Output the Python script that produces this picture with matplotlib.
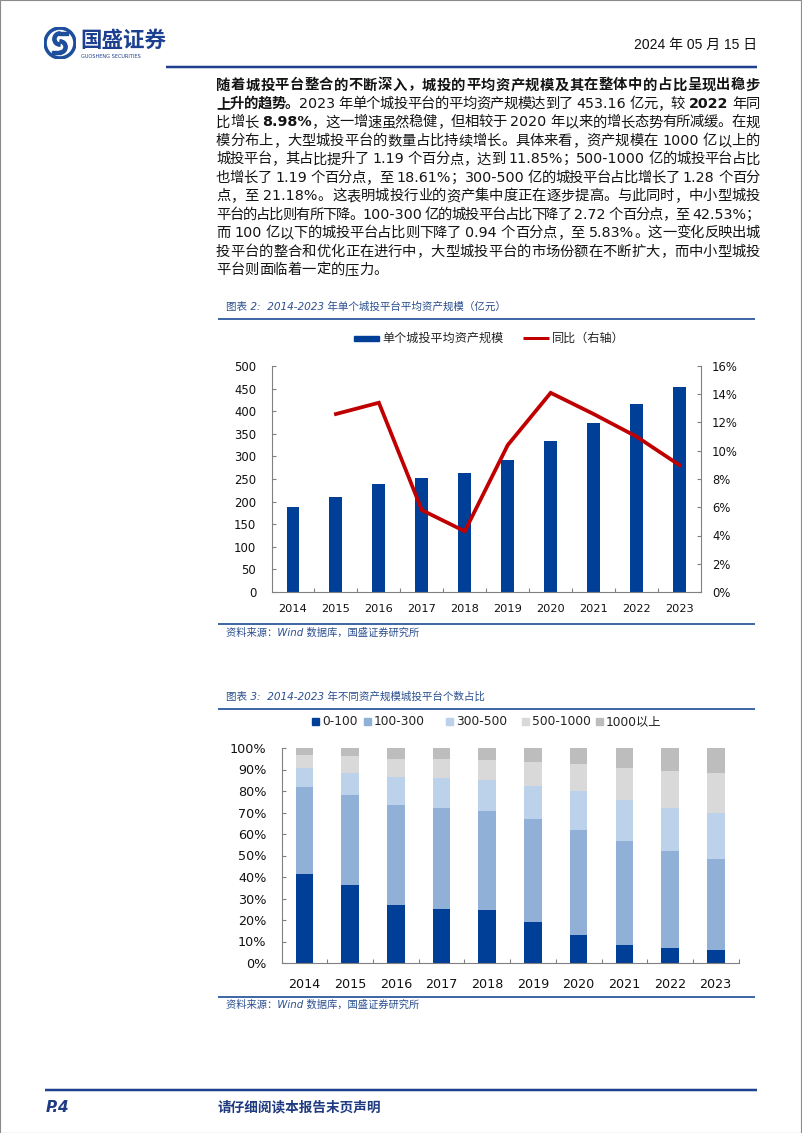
import re
import numpy as np
import matplotlib
matplotlib.use("Agg")
import matplotlib.pyplot as plt
from matplotlib.lines import Line2D
from matplotlib.patches import Rectangle, Circle, Wedge

# ---------------- data ----------------
years = ['2014', '2015', '2016', '2017', '2018', '2019', '2020', '2021', '2022', '2023']
avg_assets = [187, 211, 239, 253, 264, 292, 333, 374, 416, 453.16]          # 亿元
yoy_pct = [np.nan, 12.6, 13.4, 5.8, 4.3, 10.4, 14.1, 12.6, 11.0, 8.98]     # %
left_ticks = list(range(0, 501, 50))
right_ticks = list(range(0, 17, 2))

size_labels = ['0-100', '100-300', '300-500', '500-1000', '1000以上']
share_0_100 = [41.4, 36.2, 27.1, 25.2, 24.7, 19.0, 12.8, 8.4, 6.77, 5.83]
share_100_300 = [40.6, 42.0, 46.6, 47.0, 46.2, 48.2, 48.9, 48.4, 45.25, 42.53]
share_300_500 = [8.5, 10.4, 12.9, 13.8, 14.2, 15.2, 18.1, 18.8, 19.90, 21.18]
share_500_1000 = [6.2, 7.5, 8.1, 8.7, 9.1, 11.1, 12.7, 15.2, 17.42, 18.61]
share_1000_plus = [3.3, 3.9, 5.3, 5.3, 5.8, 6.5, 7.5, 9.2, 10.66, 11.85]
pct_ticks = list(range(0, 101, 10))

para_lines = [
    [("随着城投平台整合的不断深入，城投的平均资产规模及其在整体中的占比呈现出稳步", True)],
    [("上升的趋势。", True), ("2023 年单个城投平台的平均资产规模达到了 453.16 亿元，较 ", False),
     ("2022", True), (" 年同", False)],
    [("比增长 ", False), ("8.98%", True), ("，这一增速虽然稳健，但相较于 2020 年以来的增长态势有所减缓。在规", False)],
    [("模分布上，大型城投平台的数量占比持续增长。具体来看，资产规模在 1000 亿以上的", False)],
    [("城投平台，其占比提升了 1.19 个百分点，达到 11.85%；500-1000 亿的城投平台占比", False)],
    [("也增长了 1.19 个百分点，至 18.61%；300-500 亿的城投平台占比增长了 1.28 个百分", False)],
    [("点，至 21.18%。这表明城投行业的资产集中度正在逐步提高。与此同时，中小型城投", False)],
    [("平台的占比则有所下降。100-300 亿的城投平台占比下降了 2.72 个百分点，至 42.53%；", False)],
    [("而 100 亿以下的城投平台占比则下降了 0.94 个百分点，至 5.83%。这一变化反映出城", False)],
    [("投平台的整合和优化正在进行中，大型城投平台的市场份额在不断扩大，而中小型城投", False)],
    [("平台则面临着一定的压力。", False)],
]

# ---------------- figure ----------------
W, H = 802, 1133
fig = plt.figure(figsize=(W / 100, H / 100), dpi=100)
FAM = ['DejaVu Sans', 'Noto Sans CJK SC']
CJKF = ['Noto Sans CJK SC', 'DejaVu Sans']
BLUE_T = '#2b4f8f'


def fx(x):
    return x / W


def fy(y):
    return 1 - y / H


def hline(x0, x1, y, color, lw_px):
    fig.add_artist(Line2D([fx(x0), fx(x1)], [fy(y), fy(y)], color=color,
                          lw=lw_px * 0.72, transform=fig.transFigure, solid_capstyle='butt'))


# page border
fig.add_artist(Rectangle((0.0006, 0.0), 0.9985, 0.9999, fill=False, ec='#8a8a8a', lw=0.8,
                         transform=fig.transFigure))

# ---------------- header ----------------
lax = fig.add_axes([fx(44), fy(59), 32 / W, 32 / H])
lax.set_xlim(-1, 1); lax.set_ylim(-1, 1); lax.set_aspect('equal'); lax.axis('off')
lax.add_patch(Circle((0, 0), 1.0, color='#1d4f9c'))
lax.add_patch(Circle((0, 0), 0.78, color='white'))
lax.add_patch(Wedge((0.0, 0.25), 0.45, 90, 270, width=0.2, color='#1d4f9c'))
lax.add_patch(Wedge((0.0, -0.25), 0.45, -90, 90, width=0.2, color='#1d4f9c'))
lax.add_patch(Rectangle((-0.05, 0.5), 0.55, 0.2, color='#1d4f9c'))
lax.add_patch(Rectangle((-0.5, -0.7), 0.55, 0.2, color='#1d4f9c'))
fig.text(fx(80), fy(40), "国盛证券", fontsize=15.5, weight='bold', color='#1d3f8f',
         family=CJKF, ha='left', va='center')
fig.text(fx(81), fy(56), "GUOSHENG SECURITIES", fontsize=3.6, color='#1d3f8f',
         family=FAM, ha='left', va='center')
fig.text(fx(757), fy(45), "2024 年 05 月 15 日", fontsize=10, color='#111111',
         family=['Liberation Sans', 'Noto Sans CJK SC'], ha='right', va='center')
hline(166, 757, 67, '#1f3f8f', 2.5)

# ---------------- paragraph (justified) ----------------
PSIZE = 10.3  # pt
EM = PSIZE * 100 / 72.0  # px
ADV_REG = {'.': 0.318, '%': 0.950, '-': 0.361, ' ': 0.318}
ADV_BOLD = {'.': 0.380, '%': 1.002, '-': 0.415, ' ': 0.348}


def advance(ch, bold):
    if ch.isdigit() and ord(ch) < 128:
        return (0.696 if bold else 0.636) * EM
    tab = ADV_BOLD if bold else ADV_REG
    if ch in tab:
        return tab[ch] * EM
    return EM


X0, X1 = 216, 760
for i, segs in enumerate(para_lines):
    y = 84 + 18.45 * i
    toks = []
    for text, bold in segs:
        for t in re.findall(r'[0-9A-Za-z.%\-]+| |.', text):
            toks.append((t, bold, sum(advance(c, bold) for c in t)))
    total = sum(t[2] for t in toks)
    last = (i == len(para_lines) - 1)
    gap = 0 if last else (X1 - X0 - total) / (len(toks) - 1)
    x = X0
    for t, bold, w in toks:
        if t != ' ':
            fig.text(fx(x), fy(y), t, fontsize=PSIZE, family=FAM if ord(t[0]) < 128 else CJKF,
                     weight='bold' if bold else 'normal', color='#141414',
                     ha='left', va='center_baseline')
        x += w + gap

# ---------------- chart 1 ----------------
fig.text(fx(226), fy(307), "图表 2:  2014-2023 年单个城投平台平均资产规模（亿元）", fontsize=7.6,
         style='italic', color=BLUE_T, family=FAM, ha='left', va='center')
hline(218, 755, 319, '#4169a5', 2.0)

# legend
fig.add_artist(Rectangle((fx(354), fy(341)), 25 / W, 5.5 / H, color='#003f98',
                         transform=fig.transFigure))
fig.text(fx(382), fy(338.5), "单个城投平均资产规模", fontsize=8.7, color='#222222',
         family=CJKF, ha='left', va='center')
hline(523, 549, 338.5, '#c00000', 3)
fig.text(fx(552), fy(338.5), "同比（右轴）", fontsize=8.7, color='#222222',
         family=CJKF, ha='left', va='center')

ax1 = fig.add_axes([fx(271.5), fy(592), (701 - 271.5) / W, (592 - 366) / H])
x = np.arange(len(years))
ax1.bar(x, avg_assets, width=0.3, color='#003f98', zorder=2)
ax1.set_xlim(-0.5, len(years) - 0.5)
ax1.set_ylim(0, 500)
ax1.set_yticks(left_ticks)
ax1.set_xticks(x)
ax1.set_xticklabels(years)
ax1.set_xticks(np.arange(0.5, len(years) - 0.5, 1), minor=True)
ax1.tick_params(axis='x', which='major', length=0, pad=9, labelsize=8.2, labelcolor='#111111')
ax1.tick_params(axis='x', which='minor', length=3, direction='in', color='#808080', width=0.8)
ax1.tick_params(axis='y', direction='in', length=3, pad=11, labelsize=8.4,
                color='#808080', width=0.8, labelcolor='#111111')
for s in ['top', 'right']:
    ax1.spines[s].set_visible(False)
for s in ['left', 'bottom']:
    ax1.spines[s].set_color('#808080')
    ax1.spines[s].set_linewidth(0.8)

ax2 = ax1.twinx()
ax2.plot(x, yoy_pct, color='#c00000', lw=2.7, solid_joinstyle='miter', zorder=3)
ax2.set_ylim(0, 16)
ax2.set_yticks(right_ticks)
ax2.set_yticklabels([f"{v}%" for v in right_ticks])
ax2.tick_params(axis='y', direction='in', length=3, pad=8, labelsize=8.4,
                color='#808080', width=0.8, labelcolor='#111111')
for s in ['top', 'left', 'bottom']:
    ax2.spines[s].set_visible(False)
ax2.spines['right'].set_color('#808080')
ax2.spines['right'].set_linewidth(0.8)

hline(218, 755, 624, '#4169a5', 2.0)
fig.text(fx(226), fy(632.5), "资料来源：Wind 数据库，国盛证券研究所", fontsize=7.4,
         style='italic', color=BLUE_T, family=FAM, ha='left', va='center')

# ---------------- chart 3 ----------------
fig.text(fx(226), fy(697), "图表 3:  2014-2023 年不同资产规模城投平台个数占比", fontsize=7.6,
         style='italic', color=BLUE_T, family=FAM, ha='left', va='center')
hline(218, 755, 709, '#4169a5', 2.0)

stack_colors = ['#003f98', '#91b0d8', '#bcd1ea', '#d9d9d9', '#bdbdbd']
series = [share_0_100, share_100_300, share_300_500, share_500_1000, share_1000_plus]

leg_sq_x = [312, 364, 446, 522, 596]
for lx, lab, col in zip(leg_sq_x, size_labels, stack_colors):
    fig.add_artist(Rectangle((fx(lx), fy(725)), 7 / W, 7 / H, color=col,
                             transform=fig.transFigure))
    fig.text(fx(lx + 10), fy(721.5), lab, fontsize=8.8, color='#222222',
             family=FAM, ha='left', va='center')

ax3 = fig.add_axes([fx(281.6), fy(963), (738.6 - 281.6) / W, (963 - 748) / H])
bottom = np.zeros(len(years))
for vals, col in zip(series, stack_colors):
    ax3.bar(x, vals, width=0.385, bottom=bottom, color=col, zorder=2)
    bottom = bottom + np.array(vals)
ax3.set_xlim(-0.5, len(years) - 0.5)
ax3.set_ylim(0, 100)
ax3.set_yticks(pct_ticks)
ax3.set_yticklabels([f"{v}%" for v in pct_ticks])
ax3.set_xticks(x)
ax3.set_xticklabels(years)
ax3.set_xticks(np.arange(0.5, len(years), 1), minor=True)
ax3.tick_params(axis='x', which='major', length=0, pad=11, labelsize=9.2, labelcolor='#111111')
ax3.tick_params(axis='x', which='minor', length=3, direction='in', color='#808080', width=0.8)
ax3.tick_params(axis='y', direction='in', length=3, pad=11, labelsize=9.2,
                color='#808080', width=0.8, labelcolor='#111111')
for s in ['top', 'right']:
    ax3.spines[s].set_visible(False)
for s in ['left', 'bottom']:
    ax3.spines[s].set_color('#808080')
    ax3.spines[s].set_linewidth(0.8)

hline(218, 755, 997, '#4169a5', 2.0)
fig.text(fx(226), fy(1005), "资料来源：Wind 数据库，国盛证券研究所", fontsize=7.4,
         style='italic', color=BLUE_T, family=FAM, ha='left', va='center')

# ---------------- footer ----------------
hline(45, 757, 1090, '#1f3f8f', 2.5)
fig.text(fx(46), fy(1107), "P.4", fontsize=11, weight='bold', style='italic', color='#1f3a80',
         family=FAM, ha='left', va='center')
fig.text(fx(218), fy(1107), "请仔细阅读本报告末页声明", fontsize=9.8, weight='bold', style='italic',
         color='#1f3a80', family=CJKF, ha='left', va='center')

fig.savefig("out.png", dpi=100)
